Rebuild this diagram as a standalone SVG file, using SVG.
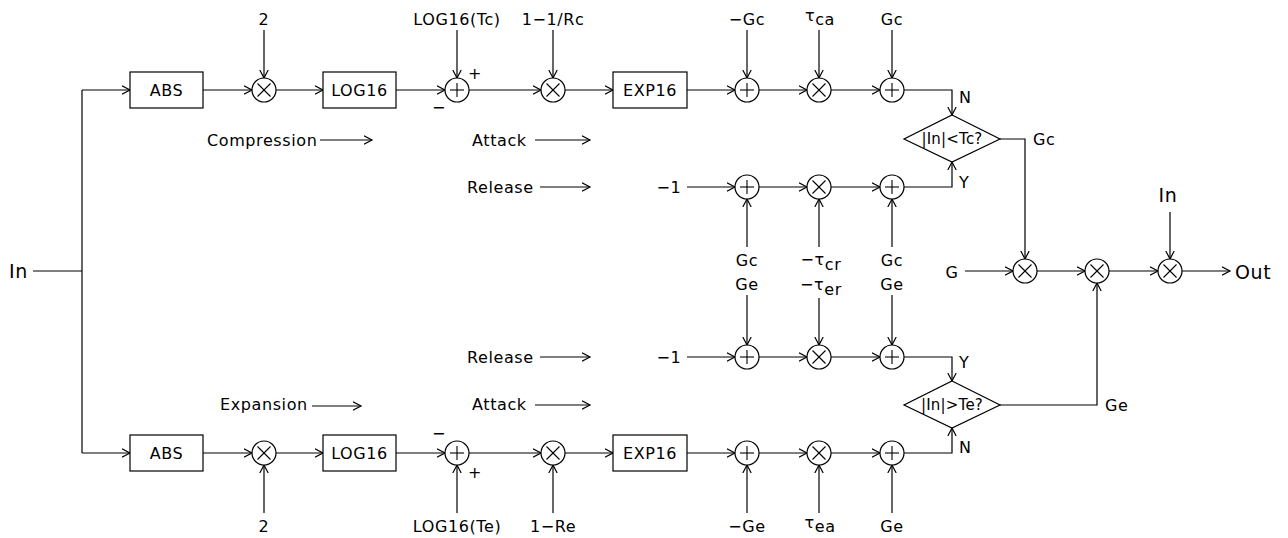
<svg xmlns="http://www.w3.org/2000/svg" xmlns:xlink="http://www.w3.org/1999/xlink" width="1288" height="538" viewBox="0 0 1288 538">
<style>
text{font-family:"DejaVu Sans","Liberation Sans",sans-serif;font-size:16px;fill:#000;letter-spacing:0.6px}
.m{text-anchor:middle}
.big{font-size:19px}
.dt{font-size:15px;letter-spacing:0.2px}
.box,.dia,.op circle{fill:#fff;stroke:#000;stroke-width:1.2}
.op line{stroke:#000;stroke-width:1.1}
#connectors path{fill:none;stroke:#000;stroke-width:1.2}
</style>
<defs>
<marker id="a" markerWidth="10" markerHeight="10" refX="8" refY="5" orient="auto" markerUnits="userSpaceOnUse"><path d="M0,0.8 L8,5 L0,9.2" fill="none" stroke="#000" stroke-width="1.2"/></marker>
<g id="mul" class="op"><circle cx="0" cy="0" r="12"/><line x1="-6.5" y1="-6.5" x2="6.5" y2="6.5"/><line x1="-6.5" y1="6.5" x2="6.5" y2="-6.5"/></g>
<g id="sum" class="op"><circle cx="0" cy="0" r="12"/><line x1="-7" y1="0" x2="7" y2="0"/><line x1="0" y1="-7" x2="0" y2="7"/></g>
</defs>
<rect x="0" y="0" width="1288" height="538" style="fill:#fff;stroke:none"/>

<g id="connectors">
<path d="M33,271 H82"/>
<path d="M82,90 V453"/>
<path d="M82,90 H130" marker-end="url(#a)"/>
<path d="M82,453 H130" marker-end="url(#a)"/>
<path d="M203,90 H252" marker-end="url(#a)"/>
<path d="M264,30 V78" marker-end="url(#a)"/>
<path d="M276,90 H323" marker-end="url(#a)"/>
<path d="M396,90 H445" marker-end="url(#a)"/>
<path d="M457,30 V78" marker-end="url(#a)"/>
<path d="M469,90 H541" marker-end="url(#a)"/>
<path d="M553,30 V78" marker-end="url(#a)"/>
<path d="M565,90 H613" marker-end="url(#a)"/>
<path d="M687,90 H735" marker-end="url(#a)"/>
<path d="M747,30 V78" marker-end="url(#a)"/>
<path d="M759,90 H807" marker-end="url(#a)"/>
<path d="M819,30 V78" marker-end="url(#a)"/>
<path d="M831,90 H880" marker-end="url(#a)"/>
<path d="M892,30 V78" marker-end="url(#a)"/>
<path d="M904,90 H952 V115" marker-end="url(#a)"/>
<path d="M1000,139 H1025 V259" marker-end="url(#a)"/>
<path d="M687,187 H735" marker-end="url(#a)"/>
<path d="M759,187 H807" marker-end="url(#a)"/>
<path d="M831,187 H880" marker-end="url(#a)"/>
<path d="M904,187 H952 V162" marker-end="url(#a)"/>
<path d="M747,247 V199" marker-end="url(#a)"/>
<path d="M819,247 V199" marker-end="url(#a)"/>
<path d="M892,247 V199" marker-end="url(#a)"/>
<path d="M747,295 V345" marker-end="url(#a)"/>
<path d="M819,298 V345" marker-end="url(#a)"/>
<path d="M892,295 V345" marker-end="url(#a)"/>
<path d="M687,357 H735" marker-end="url(#a)"/>
<path d="M759,357 H807" marker-end="url(#a)"/>
<path d="M831,357 H880" marker-end="url(#a)"/>
<path d="M904,357 H952 V381" marker-end="url(#a)"/>
<path d="M203,453 H252" marker-end="url(#a)"/>
<path d="M264,513 V465" marker-end="url(#a)"/>
<path d="M276,453 H323" marker-end="url(#a)"/>
<path d="M396,453 H445" marker-end="url(#a)"/>
<path d="M457,513 V465" marker-end="url(#a)"/>
<path d="M469,453 H541" marker-end="url(#a)"/>
<path d="M553,513 V465" marker-end="url(#a)"/>
<path d="M565,453 H613" marker-end="url(#a)"/>
<path d="M687,453 H735" marker-end="url(#a)"/>
<path d="M747,513 V465" marker-end="url(#a)"/>
<path d="M759,453 H807" marker-end="url(#a)"/>
<path d="M819,513 V465" marker-end="url(#a)"/>
<path d="M831,453 H880" marker-end="url(#a)"/>
<path d="M892,513 V465" marker-end="url(#a)"/>
<path d="M904,453 H952 V428" marker-end="url(#a)"/>
<path d="M1000,405 H1097 V283" marker-end="url(#a)"/>
<path d="M965,271 H1013" marker-end="url(#a)"/>
<path d="M1037,271 H1085" marker-end="url(#a)"/>
<path d="M1109,271 H1158" marker-end="url(#a)"/>
<path d="M1170,212 V259" marker-end="url(#a)"/>
<path d="M1182,271 H1230" marker-end="url(#a)"/>
<path d="M320,140 H372" marker-end="url(#a)"/>
<path d="M535,140 H590" marker-end="url(#a)"/>
<path d="M540,187 H590" marker-end="url(#a)"/>
<path d="M540,357 H590" marker-end="url(#a)"/>
<path d="M535,405 H590" marker-end="url(#a)"/>
<path d="M312,406 H361" marker-end="url(#a)"/>
</g>

<g id="abs_c"><rect class="box" x="130" y="72" width="73" height="36"/><text x="166.5" y="96" class="m">ABS</text></g>
<g id="mul2_c"><use xlink:href="#mul" x="264" y="90"/><text x="264" y="25" class="m">2</text></g>
<g id="log_c"><rect class="box" x="323" y="72" width="73" height="36"/><text x="359.5" y="96" class="m">LOG16</text></g>
<g id="sumT_c"><use xlink:href="#sum" x="457" y="90"/><text x="457" y="25" class="m">LOG16(Tc)</text><text x="475" y="79" class="m">+</text><text x="439" y="113" class="m">−</text></g>
<g id="mulR_c"><use xlink:href="#mul" x="553" y="90"/><text x="553" y="25" class="m">1−1/Rc</text></g>
<g id="exp_c"><rect class="box" x="613" y="72" width="74" height="36"/><text x="650" y="96" class="m">EXP16</text></g>
<g id="sumG_c"><use xlink:href="#sum" x="747" y="90"/><text x="747" y="25" class="m">−Gc</text></g>
<g id="mulT_c"><use xlink:href="#mul" x="819" y="90"/><text x="820" y="21" class="m">τ<tspan dy="4">ca</tspan></text></g>
<g id="sumGc_c"><use xlink:href="#sum" x="892" y="90"/><text x="892" y="25" class="m">Gc</text></g>
<g id="dec_c"><polygon class="dia" points="952,115 1000,139 952,162 904,139"/><text x="952" y="144" class="m dt">|In|&lt;Tc?</text><text x="959" y="103">N</text><text x="959" y="188">Y</text><text x="1033" y="145">Gc</text></g>

<g id="rel_c">
<text x="669" y="193" class="m">−1</text>
<use xlink:href="#sum" x="747" y="187"/>
<use xlink:href="#mul" x="819" y="187"/>
<use xlink:href="#sum" x="892" y="187"/>
<text x="747" y="266" class="m">Gc</text>
<text x="821" y="265" class="m">−τ<tspan dy="5">cr</tspan></text>
<text x="892" y="266" class="m">Gc</text>
</g>

<g id="rel_e">
<text x="669" y="363" class="m">−1</text>
<use xlink:href="#sum" x="747" y="357"/>
<use xlink:href="#mul" x="819" y="357"/>
<use xlink:href="#sum" x="892" y="357"/>
<text x="747" y="290" class="m">Ge</text>
<text x="821" y="290" class="m">−τ<tspan dy="5">er</tspan></text>
<text x="892" y="290" class="m">Ge</text>
</g>

<g id="abs_e"><rect class="box" x="130" y="435" width="73" height="36"/><text x="166.5" y="459" class="m">ABS</text></g>
<g id="mul2_e"><use xlink:href="#mul" x="264" y="453"/><text x="264" y="532" class="m">2</text></g>
<g id="log_e"><rect class="box" x="323" y="435" width="73" height="36"/><text x="359.5" y="459" class="m">LOG16</text></g>
<g id="sumT_e"><use xlink:href="#sum" x="457" y="453"/><text x="457" y="532" class="m">LOG16(Te)</text><text x="439" y="439" class="m">−</text><text x="475" y="478" class="m">+</text></g>
<g id="mulR_e"><use xlink:href="#mul" x="553" y="453"/><text x="553" y="532" class="m">1−Re</text></g>
<g id="exp_e"><rect class="box" x="613" y="435" width="74" height="36"/><text x="650" y="459" class="m">EXP16</text></g>
<g id="sumG_e"><use xlink:href="#sum" x="747" y="453"/><text x="747" y="532" class="m">−Ge</text></g>
<g id="mulT_e"><use xlink:href="#mul" x="819" y="453"/><text x="820" y="528" class="m">τ<tspan dy="4">ea</tspan></text></g>
<g id="sumGe_e"><use xlink:href="#sum" x="892" y="453"/><text x="892" y="532" class="m">Ge</text></g>
<g id="dec_e"><polygon class="dia" points="952,381 1000,405 952,428 904,405"/><text x="952" y="410" class="m dt">|In|&gt;Te?</text><text x="959" y="368">Y</text><text x="959" y="453">N</text><text x="1105" y="411">Ge</text></g>

<g id="in_node"><text x="9" y="278" class="big">In</text></g>
<g id="mulG"><use xlink:href="#mul" x="1025" y="271"/><text x="952" y="278" class="m">G</text></g>
<g id="mulGe"><use xlink:href="#mul" x="1097" y="271"/></g>
<g id="mulIn"><use xlink:href="#mul" x="1170" y="271"/><text x="1168" y="202" class="m big">In</text></g>
<g id="out_node"><text x="1235" y="279" class="big">Out</text></g>

<g id="labels">
<text x="207" y="146">Compression</text>
<text x="472" y="146">Attack</text>
<text x="467" y="193">Release</text>
<text x="467" y="363">Release</text>
<text x="472" y="410">Attack</text>
<text x="220" y="410">Expansion</text>
</g>
</svg>
